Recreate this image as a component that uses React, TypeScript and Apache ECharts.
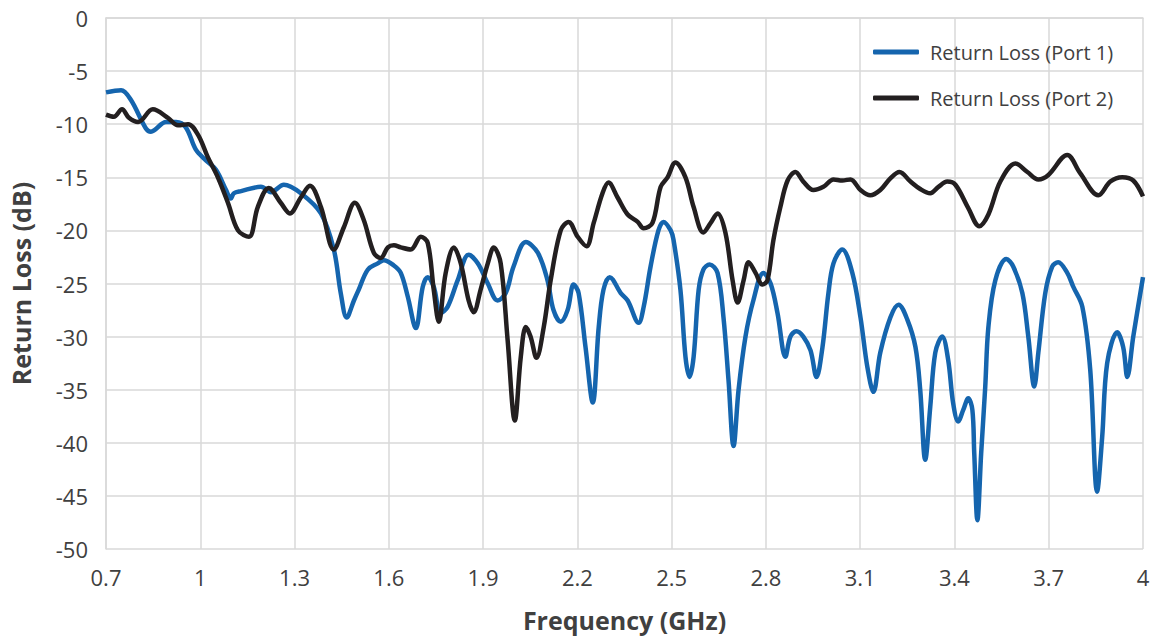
import React, { useEffect, useRef } from "react";
import * as echarts from "echarts";

// Frequency (GHz) and return loss (dB) for Port 1
const port1Freq = [
  0.7, 0.748, 0.779, 0.827, 0.843, 0.891, 0.923, 0.954, 0.986, 1.018, 1.05, 1.082, 1.097, 1.107, 1.13, 1.193,
  1.225, 1.266, 1.32, 1.384, 1.425, 1.447, 1.466, 1.489, 1.504, 1.533, 1.565, 1.584, 1.616, 1.638, 1.66, 1.686,
  1.708, 1.724, 1.743, 1.765, 1.787, 1.819, 1.854, 1.883, 1.915, 1.946, 1.972, 1.997, 2.036, 2.074, 2.105, 2.124,
  2.147, 2.169, 2.188, 2.204, 2.226, 2.249, 2.268, 2.283, 2.303, 2.338, 2.36, 2.395, 2.411, 2.433, 2.458, 2.474,
  2.497, 2.506, 2.528, 2.544, 2.557, 2.57, 2.586, 2.601, 2.621, 2.646, 2.665, 2.681, 2.697, 2.713, 2.735, 2.76,
  2.792, 2.815, 2.837, 2.862, 2.878, 2.897, 2.919, 2.942, 2.961, 2.98, 2.999, 3.015, 3.043, 3.075, 3.101, 3.123,
  3.142, 3.164, 3.196, 3.222, 3.25, 3.276, 3.291, 3.307, 3.323, 3.339, 3.361, 3.38, 3.396, 3.412, 3.428, 3.444,
  3.457, 3.463, 3.473, 3.485, 3.498, 3.508, 3.53, 3.565, 3.587, 3.616, 3.635, 3.654, 3.667, 3.689, 3.711, 3.73,
  3.759, 3.778, 3.807, 3.832, 3.854, 3.87, 3.886, 3.918, 3.937, 3.95, 3.969, 4.0,
];
const port1Loss = [
  -7.0, -6.8, -7.7, -10.4, -10.7, -9.8, -9.8, -10.3, -12.4, -13.4, -14.3, -16.2, -17.0, -16.5, -16.3, -15.9,
  -16.4, -15.7, -16.5, -18.4, -21.8, -25.9, -28.2, -26.6, -25.6, -23.7, -23.1, -22.8, -23.3, -24.0, -26.2, -29.2,
  -25.3, -24.4, -25.3, -27.8, -27.2, -24.7, -22.3, -23.1, -25.0, -26.6, -25.9, -23.4, -21.1, -22.1, -24.7, -27.5,
  -28.6, -27.5, -25.1, -25.9, -31.0, -36.2, -29.1, -25.6, -24.4, -25.9, -26.6, -28.7, -27.2, -23.4, -20.0, -19.2,
  -20.0, -20.9, -25.6, -31.9, -33.8, -31.9, -25.6, -23.7, -23.2, -24.0, -28.2, -34.1, -40.3, -35.0, -30.0, -26.6,
  -24.0, -25.0, -27.8, -31.9, -30.0, -29.5, -30.0, -31.3, -33.8, -31.0, -25.9, -23.1, -21.8, -24.0, -28.2, -32.9,
  -35.2, -31.5, -28.2, -27.0, -28.4, -31.0, -35.0, -41.6, -36.6, -31.5, -30.0, -32.2, -36.3, -38.0, -36.9, -35.8,
  -36.9, -41.0, -47.3, -41.0, -34.7, -29.1, -24.7, -22.7, -23.4, -25.9, -30.0, -34.7, -31.5, -25.9, -23.4, -23.0,
  -24.0, -25.3, -27.2, -33.1, -44.6, -39.5, -32.5, -29.6, -31.0, -33.8, -30.0, -24.4,
];

// Frequency (GHz) and return loss (dB) for Port 2
const port2Freq = [
  0.7, 0.725, 0.751, 0.773, 0.802, 0.849, 0.897, 0.929, 0.961, 0.993, 1.024, 1.056, 1.088, 1.12, 1.155, 1.183,
  1.218, 1.256, 1.285, 1.32, 1.349, 1.384, 1.425, 1.457, 1.492, 1.52, 1.552, 1.574, 1.597, 1.616, 1.638, 1.67,
  1.702, 1.724, 1.743, 1.759, 1.781, 1.807, 1.829, 1.854, 1.87, 1.892, 1.915, 1.934, 1.956, 1.978, 2.001, 2.02,
  2.036, 2.051, 2.07, 2.093, 2.115, 2.147, 2.172, 2.201, 2.229, 2.252, 2.28, 2.299, 2.328, 2.36, 2.392, 2.411,
  2.439, 2.465, 2.487, 2.512, 2.544, 2.57, 2.601, 2.624, 2.646, 2.671, 2.694, 2.71, 2.729, 2.745, 2.767, 2.789,
  2.805, 2.824, 2.846, 2.869, 2.894, 2.919, 2.951, 2.983, 3.015, 3.043, 3.069, 3.101, 3.132, 3.164, 3.196, 3.225,
  3.26, 3.291, 3.323, 3.349, 3.377, 3.403, 3.444, 3.479, 3.508, 3.546, 3.594, 3.632, 3.667, 3.698, 3.759, 3.8,
  3.858, 3.896, 3.934, 3.969, 4.0,
];
const port2Loss = [
  -9.1, -9.3, -8.6, -9.4, -9.8, -8.6, -9.4, -10.1, -10.0, -11.0, -13.1, -15.0, -17.4, -20.0, -20.6, -17.8,
  -16.0, -17.4, -18.4, -16.9, -15.8, -17.8, -21.8, -19.7, -17.4, -19.0, -22.1, -22.6, -21.6, -21.4, -21.6, -21.8,
  -20.6, -21.2, -25.6, -28.6, -24.0, -21.6, -23.1, -26.6, -27.7, -25.6, -23.1, -21.6, -23.1, -30.3, -37.9, -31.9,
  -29.1, -30.0, -32.0, -29.1, -24.7, -20.0, -19.2, -20.6, -21.5, -19.3, -16.5, -15.5, -16.9, -18.5, -19.2, -19.8,
  -19.3, -15.9, -15.0, -13.6, -15.0, -17.8, -20.2, -19.3, -18.4, -20.2, -24.7, -26.8, -24.7, -23.0, -24.0, -25.1,
  -24.7, -20.9, -17.8, -15.3, -14.5, -15.4, -16.2, -15.9, -15.2, -15.3, -15.2, -16.2, -16.7, -16.2, -15.1, -14.5,
  -15.4, -16.1, -16.5, -15.9, -15.4, -15.7, -17.9, -19.6, -18.5, -15.4, -13.7, -14.5, -15.2, -14.8, -12.9, -14.6,
  -16.7, -15.4, -15.0, -15.3, -16.8,
];

const seriesNames = ["Return Loss (Port 1)", "Return Loss (Port 2)"];
const xTitle = "Frequency (GHz)";
const yTitle = "Return Loss (dB)";

// The x axis is drawn shifted by 0.1 GHz so its minimum is a multiple of the tick interval
const X_SHIFT = 0.1;

const FONT = "'Open Sans', 'Noto Sans', sans-serif";

export default function App() {
  const ref = useRef<HTMLDivElement>(null);

  useEffect(() => {
    if (!ref.current) return;
    const chart = echarts.init(ref.current, undefined, { renderer: "svg" });
    const toData = (fs: number[], ls: number[]) => fs.map((f, i) => [f - X_SHIFT, ls[i]]);

    chart.setOption({
      animation: false,
      backgroundColor: "#ffffff",
      grid: { left: 105, right: 13, top: 18, bottom: 90, containLabel: false },
      legend: {
        orient: "vertical",
        left: 868,
        top: 37,
        itemWidth: 46,
        itemHeight: 5,
        itemGap: 26,
        icon: "roundRect",
        textStyle: { fontFamily: FONT, fontSize: 20, color: "#404040", padding: [0, 0, 0, 6] },
        data: seriesNames,
      },
      xAxis: {
        type: "value",
        min: 0.7 - X_SHIFT,
        max: 4.0 - X_SHIFT,
        interval: 0.3,
        name: xTitle,
        nameLocation: "middle",
        nameGap: 58,
        nameTextStyle: { fontFamily: FONT, fontSize: 25, fontWeight: "bold", color: "#404040" },
        axisLine: { show: true, lineStyle: { color: "#d9d9d9", width: 1.5 } },
        axisTick: { show: false },
        axisLabel: {
          fontFamily: FONT,
          fontSize: 22,
          color: "#404040",
          margin: 17,
          formatter: (v: number) => String(Math.round((v + X_SHIFT) * 10) / 10),
        },
        splitLine: { show: true, lineStyle: { color: "#d9d9d9", width: 1.5 } },
      },
      yAxis: {
        type: "value",
        min: -50,
        max: 0,
        interval: 5,
        name: yTitle,
        nameLocation: "middle",
        nameGap: 73,
        nameTextStyle: { fontFamily: FONT, fontSize: 25, fontWeight: "bold", color: "#404040" },
        axisLine: { show: true, lineStyle: { color: "#d9d9d9", width: 1.5 } },
        axisTick: { show: false },
        axisLabel: { fontFamily: FONT, fontSize: 22, color: "#404040", margin: 18 },
        splitLine: { show: true, lineStyle: { color: "#d9d9d9", width: 1.5 } },
      },
      series: [
        {
          name: seriesNames[0],
          type: "line",
          data: toData(port1Freq, port1Loss),
          showSymbol: false,
          smooth: 0.35,
          lineStyle: { color: "#1565ae", width: 4.5 },
          itemStyle: { color: "#1565ae" },
        },
        {
          name: seriesNames[1],
          type: "line",
          data: toData(port2Freq, port2Loss),
          showSymbol: false,
          smooth: 0.35,
          lineStyle: { color: "#231f20", width: 4.5 },
          itemStyle: { color: "#231f20" },
        },
      ],
    });

    return () => chart.dispose();
  }, []);

  return (
    <div
      ref={ref}
      style={{ position: "fixed", left: 0, top: 0, width: 1156, height: 639, background: "#fff" }}
    />
  );
}
